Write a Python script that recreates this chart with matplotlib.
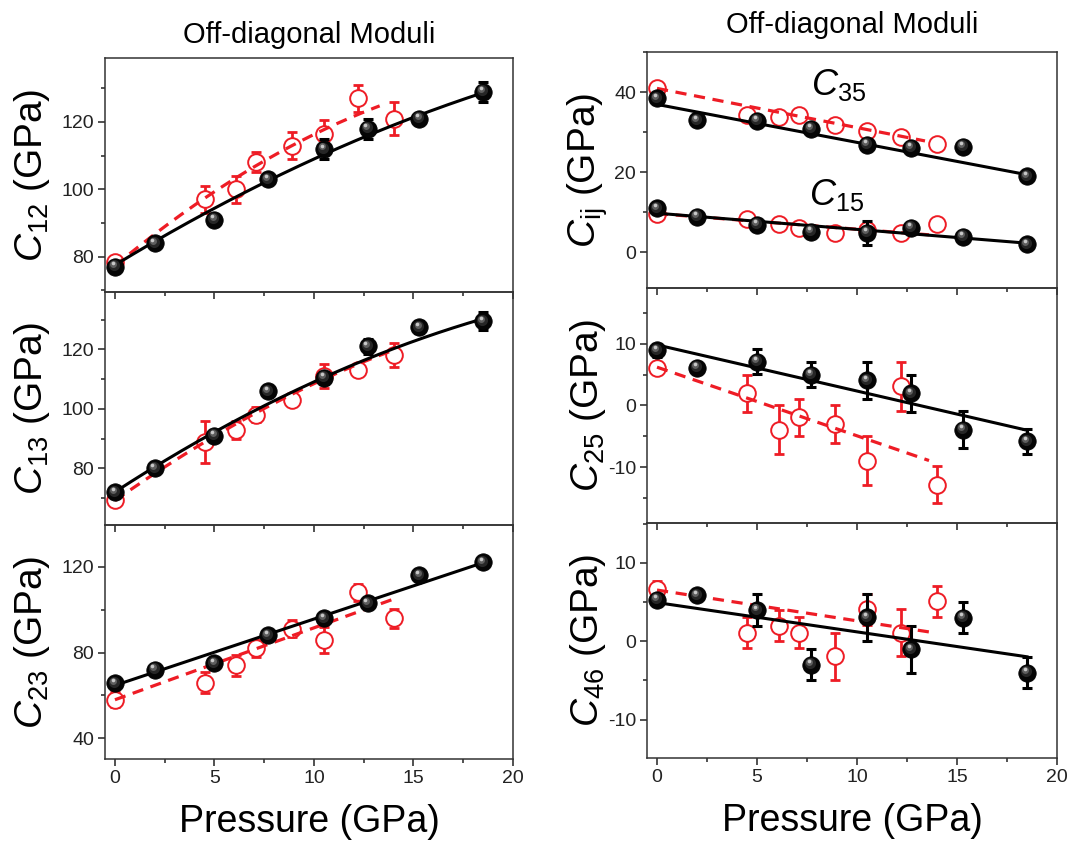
import numpy as np
import matplotlib
matplotlib.use('Agg')
import matplotlib.pyplot as plt
from matplotlib import font_manager
from matplotlib.ticker import MultipleLocator
from matplotlib.transforms import offset_copy

# pressures of the two data sets
P_black = [0, 2, 5, 7.7, 10.5, 12.7, 15.3, 18.5]
P_red = [0, 4.5, 6.1, 7.1, 8.9, 10.5, 12.2, 14.0]

C12_black = [77, 84, 91, 103, 112, 118, 121, 129]
C12_black_err = [1, 1, 1, 1, 3, 3, 1, 3]
C12_red = [78.5, 97, 100, 108, 113, 116.5, 127, 121]
C12_red_err = [1, 4, 4, 3, 4, 4, 4, 5]

C13_black = [72, 80, 91, 106, 110.5, 121, 127.5, 129.5]
C13_black_err = [1.5, 1, 1, 1.5, 2, 2.5, 2, 3]
C13_red = [69.5, 89, 93, 98, 103, 111, 113, 118]
C13_red_err = [2, 7, 3, 2.5, 2, 4, 2, 4]

C23_black = [65.8, 72, 75, 88, 96, 103, 116, 122]
C23_black_err = [1.5, 1.5, 1.5, 1.5, 1.5, 1.5, 1.5, 1.5]
C23_red = [58, 66, 74, 82, 91, 86, 108, 96]
C23_red_err = [3.5, 5, 5, 4, 4, 6, 4, 4.5]

C35_black = [38.5, 33, 32.8, 30.8, 26.8, 26.1, 26.3, 19]
C35_black_err = [1, 1, 1, 1, 1, 1, 1, 1]
C35_red = [41, 34.2, 33.8, 34.2, 31.8, 30.2, 28.8, 26.9]
C35_red_err = [1.5, 1, 1, 1, 1, 1, 1, 1]

C15_black = [10.9, 8.8, 6.8, 5.1, 4.8, 6.1, 3.8, 1.9]
C15_black_err = [1, 1, 1, 1, 3, 1, 1, 1]
C15_red = [9.4, 8.2, 6.9, 5.9, 4.8, 5.5, 4.8, 6.9]
C15_red_err = [1, 1, 1, 1, 1, 1, 1, 1]

C25_black = [8.9, 6.1, 7.1, 5.0, 4.1, 2.0, -3.9, -5.8]
C25_black_err = [1, 0.5, 2, 2, 3, 3, 3, 2]
C25_red = [6.1, 2.0, -3.9, -1.9, -3.0, -8.9, 3.1, -12.8]
C25_red_err = [1, 3, 4, 3, 3, 4, 4, 3]

C46_black = [5.3, 5.9, 4.0, -3.0, 3.1, -1.0, 3.0, -4.0]
C46_black_err = [0.5, 0.5, 2, 2, 3, 3, 2, 2]
C46_red = [6.7, 1.1, 2.0, 1.1, -1.9, 4.1, 1.1, 5.1]
C46_red_err = [1, 2, 2, 2, 3, 2, 3, 2]

# fit curves (polynomial coefficients, highest order first)
C12_black_fit = [-0.045, 3.6, 77.5]
C12_red_fit = [-0.1, 4.9, 77.3]
C13_black_fit = [-0.065, 4.35, 72.1]
C13_red_fit = [-0.079, 4.72, 69.2]
C23_black_fit = [3.09, 64.7]
C23_red_fit = [3.35, 58.0]
C35_black_fit = [-0.95, 36.9]
C35_red_fit = [-0.98, 40.9]
C15_black_fit = [-0.405, 9.7]
C15_red_fit = [-0.39, 9.6]
C25_black_fit = [-0.746, 9.8]
C25_red_fit = [-1.11, 6.2]
C46_black_fit = [-0.374, 4.94]
C46_red_fit = [-0.393, 6.54]

names = {f.name for f in font_manager.fontManager.ttflist}
FONT = 'Liberation Sans Narrow' if 'Liberation Sans Narrow' in names else 'Liberation Sans'
plt.rcParams['font.family'] = [FONT, 'DejaVu Sans']
plt.rcParams['mathtext.fontset'] = 'custom'
plt.rcParams['mathtext.rm'] = FONT
plt.rcParams['mathtext.it'] = FONT + ':italic'
plt.rcParams['axes.unicode_minus'] = False

RED = '#ee1c25'
W, H = 1072, 847

fig = plt.figure(figsize=(W / 100, H / 100), dpi=100)


def box(l, t, r, b):
    return [l / W, 1 - b / H, (r - l) / W, (b - t) / H]


def balls(ax, y, err):
    ax.errorbar(P_black, y, yerr=err, fmt='none', ecolor='black', elinewidth=2.2,
                capsize=3.5, capthick=2.2, zorder=4)
    ax.plot(P_black, y, 'o', ms=12.5, mfc='#050505', mec='black', mew=0.6, zorder=6)
    for ms, c, dx, dy in [(8, '#262626', -0.8, 1.0), (5, '#5e5e5e', -1.3, 1.8), (2.6, '#c8c8c8', -1.7, 2.4)]:
        tr = offset_copy(ax.transData, fig=fig, x=dx, y=dy, units='points')
        ax.plot(P_black, y, 'o', ms=ms, mfc=c, mec='none', transform=tr, zorder=7)


def rings(ax, y, err):
    ax.errorbar(P_red, y, yerr=err, fmt='none', ecolor=RED, elinewidth=2,
                capsize=3.5, capthick=2, zorder=2)
    ax.plot(P_red, y, 'o', ms=12, mfc='white', mec=RED, mew=1.4, zorder=3)


def fits(ax, black_fit, red_fit, red_end):
    xb = np.linspace(0, P_black[-1], 200)
    ax.plot(xb, np.polyval(black_fit, xb), '-', color='black', lw=2.2, zorder=5)
    xr = np.linspace(0, red_end, 200)
    ax.plot(xr, np.polyval(red_fit, xr), color=RED, lw=2.3, ls=(0, (3.5, 2.4)), zorder=4.5)


def style(ax, ylim, major, minor, ylabel, lab_x, bottom):
    ax.set_facecolor('none')
    ax.set_xlim(-0.5, 20)
    ax.set_ylim(*ylim)
    ax.xaxis.set_major_locator(MultipleLocator(5))
    ax.xaxis.set_minor_locator(MultipleLocator(2.5))
    ax.yaxis.set_major_locator(MultipleLocator(major))
    ax.yaxis.set_minor_locator(MultipleLocator(minor))
    ax.tick_params(which='both', direction='out', top=False, right=False,
                   width=1.1, colors='#222', labelsize=14, pad=3)
    ax.tick_params(which='major', length=5)
    ax.tick_params(which='minor', length=3)
    ax.tick_params(labelbottom=bottom)
    for s in ax.spines.values():
        s.set_linewidth(1.1)
        s.set_color('#333')
    ax.set_ylabel(ylabel, fontsize=28, va='center')
    ax.yaxis.set_label_coords(lab_x, 0.5)
    if bottom:
        ax.set_xlabel('Pressure (GPa)', fontsize=27, labelpad=12)


# left column
ax1 = fig.add_axes(box(105, 58, 513, 292))
balls(ax1, C12_black, C12_black_err)
rings(ax1, C12_red, C12_red_err)
fits(ax1, C12_black_fit, C12_red_fit, 13.3)
style(ax1, (69.5, 139), 20, 10, r'$\mathit{C}_{\mathrm{12}}$ (GPa)', -0.18, False)
ax1.set_title('Off-diagonal Moduli', fontsize=21, pad=11)

ax2 = fig.add_axes(box(105, 292, 513, 525))
balls(ax2, C13_black, C13_black_err)
rings(ax2, C13_red, C13_red_err)
fits(ax2, C13_black_fit, C13_red_fit, 14.0)
style(ax2, (61, 139.3), 20, 10, r'$\mathit{C}_{\mathrm{13}}$ (GPa)', -0.18, False)

ax3 = fig.add_axes(box(105, 525, 513, 759))
balls(ax3, C23_black, C23_black_err)
rings(ax3, C23_red, C23_red_err)
fits(ax3, C23_black_fit, C23_red_fit, 13.9)
style(ax3, (30.4, 139.4), 40, 20, r'$\mathit{C}_{\mathrm{23}}$ (GPa)', -0.18, True)

# right column
ax4 = fig.add_axes(box(647, 52, 1057, 288))
balls(ax4, C35_black, C35_black_err)
rings(ax4, C35_red, C35_red_err)
fits(ax4, C35_black_fit, C35_red_fit, 13.4)
balls(ax4, C15_black, C15_black_err)
rings(ax4, C15_red, C15_red_err)
fits(ax4, C15_black_fit, C15_red_fit, 13.6)
style(ax4, (-9, 50), 20, 10, r'$\mathit{C}_{\mathrm{ij}}$ (GPa)', -0.145, False)
ax4.set_title('Off-diagonal Moduli', fontsize=21, pad=14)
ax4.text(9.1, 41.8, r'$\mathit{C}_{\mathrm{35}}$', fontsize=26, ha='center', va='center')
ax4.text(9.0, 14.2, r'$\mathit{C}_{\mathrm{15}}$', fontsize=26, ha='center', va='center')

ax5 = fig.add_axes(box(647, 288, 1057, 523))
balls(ax5, C25_black, C25_black_err)
rings(ax5, C25_red, C25_red_err)
fits(ax5, C25_black_fit, C25_red_fit, 13.6)
style(ax5, (-19, 19), 10, 5, r'$\mathit{C}_{\mathrm{25}}$ (GPa)', -0.145, False)

ax6 = fig.add_axes(box(647, 523, 1057, 758))
balls(ax6, C46_black, C46_black_err)
rings(ax6, C46_red, C46_red_err)
fits(ax6, C46_black_fit, C46_red_fit, 13.6)
style(ax6, (-14.9, 15.1), 10, 5, r'$\mathit{C}_{\mathrm{46}}$ (GPa)', -0.145, True)

fig.savefig('out.png', dpi=100)
